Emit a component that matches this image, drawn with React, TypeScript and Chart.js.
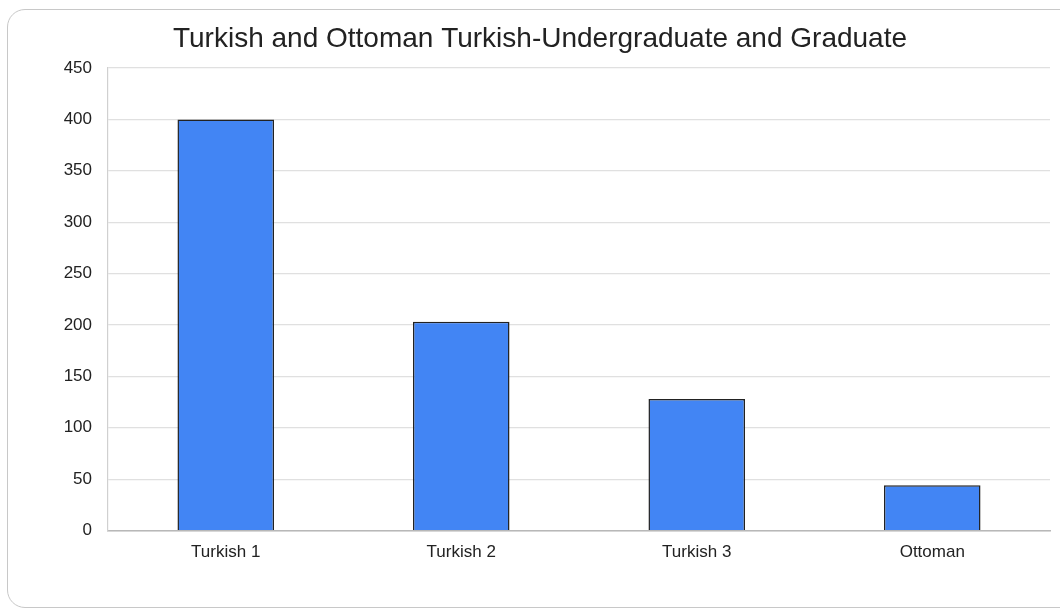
import React, { useEffect, useRef } from "react";
import { Chart, registerables } from "chart.js";

Chart.register(...registerables);

const TITLE = "Turkish and Ottoman Turkish-Undergraduate and Graduate";
const categories = ["Turkish 1", "Turkish 2", "Turkish 3", "Ottoman"];
const values = [400, 203, 128, 44];
const yTicks = [0, 50, 100, 150, 200, 250, 300, 350, 400, 450];

const FONT = "'Liberation Sans', Arial, Helvetica, sans-serif";

export default function App() {
  const ref = useRef<HTMLCanvasElement | null>(null);

  useEffect(() => {
    if (!ref.current) return;
    const chart = new Chart(ref.current, {
      type: "bar",
      data: {
        labels: categories,
        datasets: [
          {
            label: "Students",
            data: values,
            backgroundColor: "#4285f4",
            borderColor: "#222222",
            borderWidth: 1.5,
            categoryPercentage: 1,
            barPercentage: 0.41,
          },
        ],
      },
      options: {
        responsive: false,
        animation: false,
        devicePixelRatio: 1,
        layout: { padding: { top: 0, left: 30, right: 10, bottom: 0 } },
        plugins: {
          legend: { display: false },
          tooltip: { enabled: false },
          title: {
            display: true,
            text: TITLE,
            color: "#222222",
            font: { family: FONT, size: 28, weight: "normal", lineHeight: 1.2 },
            padding: { top: 22, bottom: 12.4 },
          },
        },
        scales: {
          x: {
            grid: { display: false, drawTicks: false },
            border: { display: true, color: "#b8b8b8", width: 1.5 },
            ticks: {
              color: "#222222",
              font: { family: FONT, size: 17 },
              padding: 12,
              maxRotation: 0,
            },
            afterFit: (s: any) => {
              s.height = 81.5;
            },
          },
          y: {
            min: 0,
            max: 450,
            afterBuildTicks: (s: any) => {
              s.ticks = yTicks.map((v) => ({ value: v }));
            },
            grid: {
              color: "#e0e0e0",
              lineWidth: 1.2,
              drawTicks: false,
            },
            border: { display: true, color: "#d0d0d0", width: 1.2 },
            ticks: {
              color: "#222222",
              font: { family: FONT, size: 17 },
              padding: 16,
            },
            afterFit: (s: any) => {
              s.width = 78;
            },
          },
        },
      },
    });
    return () => chart.destroy();
  }, []);

  return (
    <div
      style={{
        position: "fixed",
        left: 0,
        top: 0,
        width: 1060,
        height: 612,
        overflow: "hidden",
        background: "#ffffff",
      }}
    >
      <div
        style={{
          position: "absolute",
          left: 7,
          top: 9,
          width: 1100,
          height: 599,
          border: "1.5px solid #c8c8c8",
          borderRadius: 18,
          boxSizing: "border-box",
        }}
      />
      <canvas
        ref={ref}
        width={1060}
        height={612}
        style={{ position: "absolute", left: 0, top: 0, display: "block" }}
      />
    </div>
  );
}
